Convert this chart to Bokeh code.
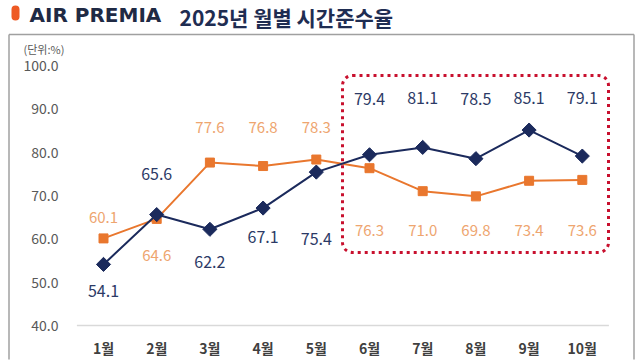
import math
from bokeh.plotting import figure
from bokeh.models import (Range1d, FixedTicker, NumeralTickFormatter, Label,
                          BoxAnnotation, ColumnDataSource)
from bokeh.core.properties import value
from bokeh.embed import file_html
from bokeh.resources import INLINE

# ---- data ----
months = ["1월", "2월", "3월", "4월", "5월", "6월", "7월", "8월", "9월", "10월"]
navy_vals = [54.1, 65.6, 62.2, 67.1, 75.4, 79.4, 81.1, 78.5, 85.1, 79.1]
orange_vals = [60.1, 64.6, 77.6, 76.8, 78.3, 76.3, 71.0, 69.8, 73.4, 73.6]
y_ticks = [40, 50, 60, 70, 80, 90, 100]

# label pixel offsets (style)
navy_off = [27, -41, 33, 29, 67, -56, -49, -60, -32, -58]
orange_off = [-21, 37, -35, -39, -32, 62, 39, 34, 50, 51]

xs = list(range(1, len(months) + 1))

FONT = "Noto Sans CJK KR"
NAVY = "#1B2A5C"
NAVY_TXT = "#2C3A66"
ORANGE = "#E9772E"
ORANGE_TXT = "#EEA56F"

W, H = 640, 360

# pixel -> data helpers (for annotation placement)
def fx(px):
    return 1 + (px - 103) / 53.2

def fy(py):
    return 40 + (325 - py) / 4.3333

p = figure(width=W, height=H, output_backend="svg", toolbar_location=None,
           x_range=Range1d(fx(0), fx(W)), y_range=Range1d(fy(H), fy(0)),
           min_border_left=0, min_border_right=0, min_border_top=0,
           min_border_bottom=0)
p.outline_line_color = None
p.xgrid.grid_line_color = None
p.ygrid.grid_line_color = None
p.background_fill_color = "white"
p.border_fill_color = "white"

# axes drawn inside the canvas at fixed locations
p.yaxis.fixed_location = fx(70)
p.yaxis.ticker = FixedTicker(ticks=y_ticks)
p.yaxis.formatter = NumeralTickFormatter(format="0.0")
p.yaxis.axis_line_color = None
p.yaxis.major_tick_line_color = None
p.yaxis.minor_tick_line_color = None
p.yaxis.major_label_text_font = FONT
p.yaxis.major_label_text_font_size = "14px"
p.yaxis.major_label_text_color = "#595959"
p.yaxis.major_label_standoff = 6

p.xaxis.fixed_location = fy(331)
p.xaxis.ticker = FixedTicker(ticks=xs)
p.xaxis.major_label_overrides = {x: m for x, m in zip(xs, months)}
p.xaxis.axis_line_color = None
p.xaxis.major_tick_line_color = None
p.xaxis.minor_tick_line_color = None
p.xaxis.major_label_text_font = FONT
p.xaxis.major_label_text_font_size = "14px"
p.xaxis.major_label_text_font_style = "bold"
p.xaxis.major_label_text_color = "#404040"
p.xaxis.major_label_standoff = 0

# outer gray frame (left, top, right)
p.segment(x0=[fx(8.5), fx(8.5), fx(633.5)], y0=[fy(359), fy(34), fy(34)],
          x1=[fx(8.5), fx(633.5), fx(633.5)], y1=[fy(34), fy(34), fy(359)],
          line_color="#A0A0A0", line_width=1.5)

# baseline
p.segment(x0=[0.5], y0=[y_ticks[0]], x1=[len(months) + 0.5], y1=[y_ticks[0]],
          line_color="#D9D9D9", line_width=1.5)

# series
src_n = ColumnDataSource(dict(x=xs, y=navy_vals, off=navy_off,
                              t=[f"{v:.1f}" for v in navy_vals]))
src_o = ColumnDataSource(dict(x=xs, y=orange_vals, off=orange_off,
                              t=[f"{v:.1f}" for v in orange_vals]))

p.line("x", "y", source=src_o, line_color=ORANGE, line_width=2)
p.scatter("x", "y", source=src_o, marker="square", size=9,
          fill_color=ORANGE, line_color=ORANGE)
p.line("x", "y", source=src_n, line_color=NAVY, line_width=2)
p.scatter("x", "y", source=src_n, marker="square", size=10, angle=math.pi / 4,
          fill_color=NAVY, line_color=NAVY)

p.text("x", "y", text="t", source=src_n, y_offset="off",
       text_font=value(FONT), text_font_size="16px", text_color=NAVY_TXT,
       text_align="center", text_baseline="middle")
p.text("x", "y", text="t", source=src_o, y_offset="off",
       text_font=value(FONT), text_font_size="15px", text_color=ORANGE_TXT,
       text_align="center", text_baseline="middle")

# highlight box
p.add_layout(BoxAnnotation(left=fx(342), right=fx(608), top=fy(75), bottom=fy(252),
                           fill_color=None, fill_alpha=0, line_color="#C8102E",
                           line_alpha=1, line_width=3, line_dash="3 4",
                           border_radius=10))

# title pieces
p.add_layout(BoxAnnotation(left=fx(11), right=fx(19), top=fy(5), bottom=fy(20),
                           fill_color="#EE5A24", fill_alpha=1, line_color=None,
                           border_radius=4))
p.add_layout(Label(x=fx(29), y=fy(14), text="AIR PREMIA", text_font="DejaVu Sans",
                   text_font_size="20px", text_font_style="bold", text_color="#1F2A44",
                   text_baseline="middle"))
p.add_layout(Label(x=fx(179), y=fy(16), text="2025년 월별 시간준수율", text_font=FONT,
                   text_font_size="21px", text_font_style="bold", text_color="#1F2D52",
                   text_baseline="middle"))
p.add_layout(Label(x=fx(23), y=fy(48), text="(단위:%)", text_font=FONT,
                   text_font_size="11px", text_color="#595959",
                   text_baseline="middle"))

open("out.html", "w").write(file_html(p, INLINE))
